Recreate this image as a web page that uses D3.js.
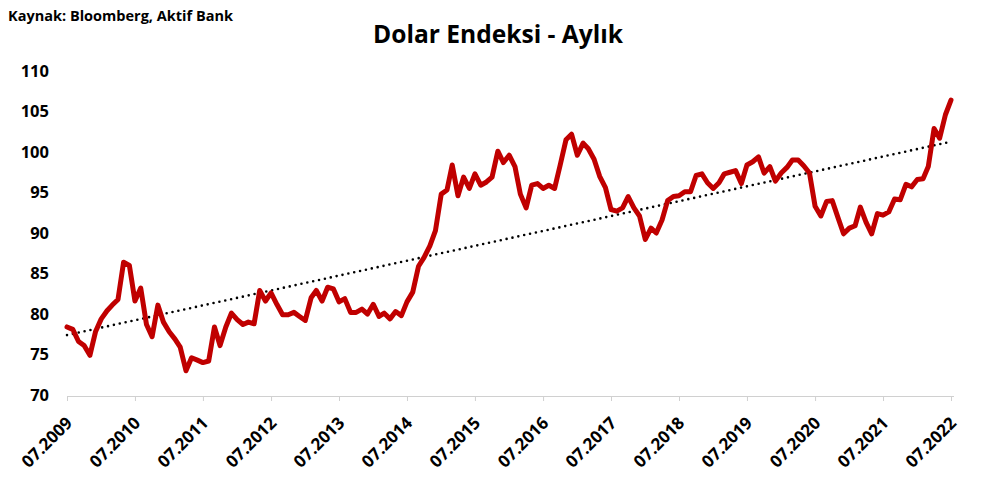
<!DOCTYPE html>
<html><head><meta charset="utf-8">
<script src="https://cdn.jsdelivr.net/npm/d3@7"></script>
<style>body{margin:0;background:#fff}svg{display:block}</style>
</head><body>
<svg id="c" width="993" height="480"></svg>
<script>
const startYear = 2009, startMonth = 7;
const values = [
 78.4,78.1,76.6,76.1,74.9,77.8,
 79.4,80.4,81.1,81.8,86.4,86.0,81.6,83.2,78.7,77.2,81.1,79.0,
 77.8,76.9,75.9,73.0,74.6,74.3,74.0,74.2,78.4,76.1,78.4,80.1,
 79.3,78.7,79.0,78.8,82.9,81.6,82.6,81.2,79.9,79.9,80.2,79.7,
 79.2,82.0,82.9,81.6,83.3,83.1,81.5,81.9,80.2,80.2,80.6,80.0,
 81.2,79.7,80.1,79.4,80.3,79.8,81.5,82.7,85.9,87.0,88.4,90.3,
 94.8,95.3,98.4,94.6,96.9,95.5,97.3,95.9,96.3,96.9,100.1,98.7,
 99.6,98.2,94.8,93.1,95.9,96.1,95.5,95.9,95.5,98.4,101.5,102.2,
 99.6,101.1,100.4,99.1,97.0,95.6,92.9,92.7,93.1,94.5,93.1,92.1,
 89.2,90.6,90.0,91.6,94.0,94.5,94.6,95.1,95.1,97.1,97.3,96.2,
 95.5,96.2,97.3,97.5,97.7,96.1,98.4,98.8,99.4,97.4,98.2,96.4,
 97.4,98.1,99.0,99.0,98.3,97.4,93.3,92.1,93.9,94.0,91.9,89.9,
 90.6,90.9,93.2,91.3,89.9,92.4,92.2,92.6,94.2,94.1,96.0,95.7,
 96.6,96.7,98.2,102.9,101.7,104.6,106.4
];
const dates = values.map((v,i)=> new Date(startYear, startMonth-1+i, 1));
const yTicks = [70,75,80,85,90,95,100,105,110];
const xTickLabels = ["07.2009","07.2010","07.2011","07.2012","07.2013","07.2014","07.2015","07.2016","07.2017","07.2018","07.2019","07.2020","07.2021","07.2022"];

const svg = d3.select("#c");
const font = "'Open Sans', sans-serif";
const x = d3.scaleTime().domain([dates[0], dates[dates.length-1]]).range([67, 951]);
const y = d3.scaleLinear().domain([70,110]).range([395,71]);

svg.append("text").attr("x",8).attr("y",21).attr("font-family",font).attr("font-weight","bold")
  .attr("font-size",14).attr("fill","#000").attr("textLength",225).attr("lengthAdjust","spacingAndGlyphs")
  .text("Kaynak: Bloomberg, Aktif Bank");
svg.append("text").attr("x",498).attr("y",43).attr("text-anchor","middle").attr("font-family",font)
  .attr("font-weight","bold").attr("font-size",24.5).attr("fill","#000")
  .attr("textLength",250).attr("lengthAdjust","spacingAndGlyphs").text("Dolar Endeksi - Aylık");

// y labels
svg.append("g").selectAll("text").data(yTicks).join("text")
  .attr("x",49).attr("y",d=>y(d)).attr("dy","0.36em").attr("text-anchor","end")
  .attr("font-family",font).attr("font-weight","bold").attr("font-size",16.5).text(d=>d);

// x axis
const tickDates = xTickLabels.map(s=>{const [m,yy]=s.split(".");return new Date(+yy,+m-1,1);});
const xAxis = d3.axisBottom(x).tickValues(tickDates).tickSize(5).tickFormat((d,i)=>xTickLabels[i]);
const gx = svg.append("g").attr("transform","translate(0,396)").call(xAxis);
gx.select(".domain").attr("stroke","#d0d0d0").attr("d","M67,0.5H954");
gx.selectAll(".tick line").attr("stroke","#d0d0d0");
gx.selectAll(".tick text").attr("font-family",font).attr("font-weight","bold").attr("font-size",17)
  .attr("fill","#000").attr("text-anchor","end").attr("dy",null).attr("y",0)
  .attr("transform","translate(6,28) rotate(-45)");

// trend line (least squares)
const n = values.length;
const xs = d3.range(n);
const mx = d3.mean(xs), my = d3.mean(values);
const slope = d3.sum(xs,(i)=>(i-mx)*(values[i]-my))/d3.sum(xs,i=>(i-mx)*(i-mx));
const icpt = my - slope*mx;
svg.append("line").attr("x1",x(dates[0])).attr("y1",y(icpt)).attr("x2",x(dates[n-1])).attr("y2",y(icpt+slope*(n-1)))
  .attr("stroke","#000").attr("stroke-width",2.6).attr("stroke-dasharray","0 6").attr("stroke-linecap","round");

const line = d3.line().x((d,i)=>x(dates[i])).y(d=>y(d));
svg.append("path").datum(values).attr("d",line).attr("fill","none").attr("stroke","#c00000")
  .attr("stroke-width",5).attr("stroke-linejoin","round").attr("stroke-linecap","round");
</script>
</body></html>
